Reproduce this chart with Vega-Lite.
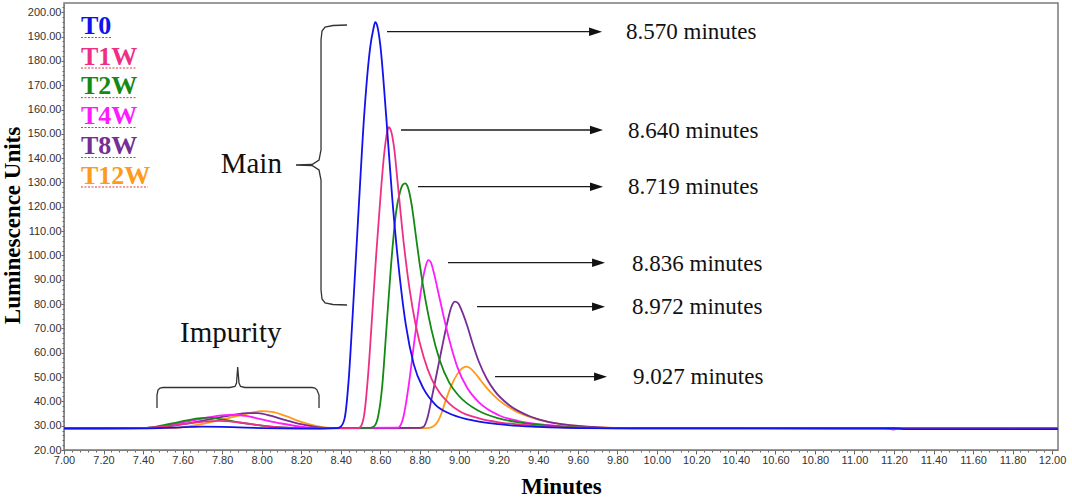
{
  "$schema": "https://vega.github.io/schema/vega-lite/v6.json",
  "width": 994,
  "height": 447,
  "autosize": {"type": "none"},
  "padding": {"left": 64, "top": 3, "right": 14, "bottom": 49},
  "background": "white",
  "config": {"view": {"stroke": "#7a7a7a", "strokeWidth": 1.5}},
  "datasets": {
    "curves": [
      {"s": "T12W", "t": 7, "v": 28.9}, {"s": "T12W", "t": 7.55, "v": 29.0}, {"s": "T12W", "t": 7.65, "v": 30.0}, {"s": "T12W", "t": 7.75, "v": 31.6}, {"s": "T12W", "t": 7.85, "v": 33.5}, {"s": "T12W", "t": 7.95, "v": 35.4}, {"s": "T12W", "t": 8.0, "v": 36.0}, {"s": "T12W", "t": 8.06, "v": 35.6}, {"s": "T12W", "t": 8.12, "v": 34.0}, {"s": "T12W", "t": 8.2, "v": 31.6}, {"s": "T12W", "t": 8.27, "v": 30.0}, {"s": "T12W", "t": 8.33, "v": 29.2}, {"s": "T12W", "t": 8.4, "v": 28.9}, {"s": "T12W", "t": 8.84, "v": 29.0}, {"s": "T12W", "t": 8.87, "v": 29.8}, {"s": "T12W", "t": 8.89, "v": 31.5}, {"s": "T12W", "t": 8.91, "v": 35}, {"s": "T12W", "t": 8.93, "v": 40}, {"s": "T12W", "t": 8.96, "v": 46.5}, {"s": "T12W", "t": 8.99, "v": 51.2}, {"s": "T12W", "t": 9.015, "v": 53.6}, {"s": "T12W", "t": 9.034, "v": 54.3}, {"s": "T12W", "t": 9.05, "v": 53.9}, {"s": "T12W", "t": 9.08, "v": 51.6}, {"s": "T12W", "t": 9.11, "v": 48.5}, {"s": "T12W", "t": 9.15, "v": 44.5}, {"s": "T12W", "t": 9.2, "v": 40.5}, {"s": "T12W", "t": 9.28, "v": 36.2}, {"s": "T12W", "t": 9.38, "v": 33}, {"s": "T12W", "t": 9.5, "v": 30.8}, {"s": "T12W", "t": 9.6, "v": 29.8}, {"s": "T12W", "t": 9.75, "v": 29.2}, {"s": "T12W", "t": 9.9, "v": 28.9}, {"s": "T12W", "t": 12.03, "v": 28.9},
      {"s": "T8W", "t": 7, "v": 28.9}, {"s": "T8W", "t": 7.45, "v": 29.0}, {"s": "T8W", "t": 7.55, "v": 30.0}, {"s": "T8W", "t": 7.65, "v": 31.3}, {"s": "T8W", "t": 7.75, "v": 32.8}, {"s": "T8W", "t": 7.85, "v": 34.3}, {"s": "T8W", "t": 7.93, "v": 35.2}, {"s": "T8W", "t": 7.98, "v": 35.2}, {"s": "T8W", "t": 8.05, "v": 34.0}, {"s": "T8W", "t": 8.12, "v": 32.3}, {"s": "T8W", "t": 8.2, "v": 30.6}, {"s": "T8W", "t": 8.28, "v": 29.4}, {"s": "T8W", "t": 8.35, "v": 29.0}, {"s": "T8W", "t": 8.8, "v": 29.1}, {"s": "T8W", "t": 8.82, "v": 29.6}, {"s": "T8W", "t": 8.84, "v": 33.5}, {"s": "T8W", "t": 8.86, "v": 41}, {"s": "T8W", "t": 8.88, "v": 49}, {"s": "T8W", "t": 8.91, "v": 61}, {"s": "T8W", "t": 8.94, "v": 72.5}, {"s": "T8W", "t": 8.96, "v": 78.8}, {"s": "T8W", "t": 8.978, "v": 81.0}, {"s": "T8W", "t": 8.995, "v": 80.3}, {"s": "T8W", "t": 9.01, "v": 77.8}, {"s": "T8W", "t": 9.04, "v": 71.2}, {"s": "T8W", "t": 9.07, "v": 63.2}, {"s": "T8W", "t": 9.1, "v": 56.2}, {"s": "T8W", "t": 9.14, "v": 49.2}, {"s": "T8W", "t": 9.18, "v": 44.2}, {"s": "T8W", "t": 9.25, "v": 38.6}, {"s": "T8W", "t": 9.35, "v": 34.1}, {"s": "T8W", "t": 9.45, "v": 31.6}, {"s": "T8W", "t": 9.55, "v": 30.3}, {"s": "T8W", "t": 9.65, "v": 29.6}, {"s": "T8W", "t": 9.8, "v": 29.1}, {"s": "T8W", "t": 12.03, "v": 28.9},
      {"s": "T4W", "t": 7, "v": 28.9}, {"s": "T4W", "t": 7.4, "v": 29.0}, {"s": "T4W", "t": 7.5, "v": 29.9}, {"s": "T4W", "t": 7.6, "v": 31.4}, {"s": "T4W", "t": 7.7, "v": 32.9}, {"s": "T4W", "t": 7.8, "v": 34.2}, {"s": "T4W", "t": 7.86, "v": 34.5}, {"s": "T4W", "t": 7.92, "v": 34.0}, {"s": "T4W", "t": 8.0, "v": 32.6}, {"s": "T4W", "t": 8.1, "v": 30.9}, {"s": "T4W", "t": 8.2, "v": 29.6}, {"s": "T4W", "t": 8.3, "v": 29.0}, {"s": "T4W", "t": 8.69, "v": 29.2}, {"s": "T4W", "t": 8.7, "v": 29.8}, {"s": "T4W", "t": 8.71, "v": 31.5}, {"s": "T4W", "t": 8.72, "v": 34.5}, {"s": "T4W", "t": 8.73, "v": 39}, {"s": "T4W", "t": 8.75, "v": 50}, {"s": "T4W", "t": 8.77, "v": 63}, {"s": "T4W", "t": 8.79, "v": 75.5}, {"s": "T4W", "t": 8.81, "v": 87.5}, {"s": "T4W", "t": 8.83, "v": 95.5}, {"s": "T4W", "t": 8.843, "v": 98.1}, {"s": "T4W", "t": 8.855, "v": 97.4}, {"s": "T4W", "t": 8.87, "v": 93.4}, {"s": "T4W", "t": 8.89, "v": 86.3}, {"s": "T4W", "t": 8.92, "v": 75.3}, {"s": "T4W", "t": 8.95, "v": 65.2}, {"s": "T4W", "t": 8.99, "v": 54.2}, {"s": "T4W", "t": 9.04, "v": 45.6}, {"s": "T4W", "t": 9.1, "v": 39.6}, {"s": "T4W", "t": 9.2, "v": 34.3}, {"s": "T4W", "t": 9.3, "v": 31.9}, {"s": "T4W", "t": 9.4, "v": 30.6}, {"s": "T4W", "t": 9.5, "v": 29.9}, {"s": "T4W", "t": 9.6, "v": 29.4}, {"s": "T4W", "t": 9.8, "v": 29.0}, {"s": "T4W", "t": 12.03, "v": 28.9},
      {"s": "T2W", "t": 7, "v": 28.9}, {"s": "T2W", "t": 7.4, "v": 29.0}, {"s": "T2W", "t": 7.48, "v": 29.8}, {"s": "T2W", "t": 7.58, "v": 31.5}, {"s": "T2W", "t": 7.68, "v": 33.0}, {"s": "T2W", "t": 7.73, "v": 33.3}, {"s": "T2W", "t": 7.8, "v": 32.6}, {"s": "T2W", "t": 7.9, "v": 31.2}, {"s": "T2W", "t": 8.0, "v": 30.0}, {"s": "T2W", "t": 8.1, "v": 29.3}, {"s": "T2W", "t": 8.2, "v": 29.0}, {"s": "T2W", "t": 8.55, "v": 29.1}, {"s": "T2W", "t": 8.57, "v": 29.8}, {"s": "T2W", "t": 8.59, "v": 34}, {"s": "T2W", "t": 8.61, "v": 46}, {"s": "T2W", "t": 8.63, "v": 68}, {"s": "T2W", "t": 8.655, "v": 96}, {"s": "T2W", "t": 8.68, "v": 117.5}, {"s": "T2W", "t": 8.7, "v": 126}, {"s": "T2W", "t": 8.715, "v": 129.1}, {"s": "T2W", "t": 8.726, "v": 129.6}, {"s": "T2W", "t": 8.74, "v": 128.1}, {"s": "T2W", "t": 8.76, "v": 120.5}, {"s": "T2W", "t": 8.78, "v": 108.5}, {"s": "T2W", "t": 8.8, "v": 96.4}, {"s": "T2W", "t": 8.83, "v": 81.3}, {"s": "T2W", "t": 8.86, "v": 69.3}, {"s": "T2W", "t": 8.9, "v": 57.2}, {"s": "T2W", "t": 8.95, "v": 47.6}, {"s": "T2W", "t": 9.0, "v": 42.1}, {"s": "T2W", "t": 9.1, "v": 36}, {"s": "T2W", "t": 9.2, "v": 33}, {"s": "T2W", "t": 9.3, "v": 31.4}, {"s": "T2W", "t": 9.4, "v": 30.4}, {"s": "T2W", "t": 9.5, "v": 29.7}, {"s": "T2W", "t": 9.6, "v": 29.3}, {"s": "T2W", "t": 9.8, "v": 29.0}, {"s": "T2W", "t": 12.03, "v": 28.9},
      {"s": "T1W", "t": 7, "v": 28.9}, {"s": "T1W", "t": 7.4, "v": 29.0}, {"s": "T1W", "t": 7.5, "v": 29.6}, {"s": "T1W", "t": 7.6, "v": 30.6}, {"s": "T1W", "t": 7.7, "v": 31.6}, {"s": "T1W", "t": 7.78, "v": 32.0}, {"s": "T1W", "t": 7.86, "v": 31.6}, {"s": "T1W", "t": 7.95, "v": 30.6}, {"s": "T1W", "t": 8.05, "v": 29.6}, {"s": "T1W", "t": 8.15, "v": 29.1}, {"s": "T1W", "t": 8.3, "v": 28.9}, {"s": "T1W", "t": 8.49, "v": 29.0}, {"s": "T1W", "t": 8.5, "v": 29.5}, {"s": "T1W", "t": 8.52, "v": 35}, {"s": "T1W", "t": 8.54, "v": 52}, {"s": "T1W", "t": 8.56, "v": 76}, {"s": "T1W", "t": 8.58, "v": 100.5}, {"s": "T1W", "t": 8.6, "v": 122.5}, {"s": "T1W", "t": 8.62, "v": 141.6}, {"s": "T1W", "t": 8.635, "v": 150.6}, {"s": "T1W", "t": 8.643, "v": 152.7}, {"s": "T1W", "t": 8.655, "v": 151.2}, {"s": "T1W", "t": 8.67, "v": 144.6}, {"s": "T1W", "t": 8.69, "v": 128.6}, {"s": "T1W", "t": 8.72, "v": 104.5}, {"s": "T1W", "t": 8.75, "v": 85.4}, {"s": "T1W", "t": 8.78, "v": 71.3}, {"s": "T1W", "t": 8.82, "v": 58.2}, {"s": "T1W", "t": 8.86, "v": 49.2}, {"s": "T1W", "t": 8.9, "v": 43.6}, {"s": "T1W", "t": 8.95, "v": 39.1}, {"s": "T1W", "t": 9.0, "v": 36}, {"s": "T1W", "t": 9.1, "v": 33}, {"s": "T1W", "t": 9.2, "v": 31.4}, {"s": "T1W", "t": 9.3, "v": 30.5}, {"s": "T1W", "t": 9.45, "v": 29.6}, {"s": "T1W", "t": 9.6, "v": 29.1}, {"s": "T1W", "t": 9.8, "v": 28.9}, {"s": "T1W", "t": 11.15, "v": 28.9}, {"s": "T1W", "t": 11.2, "v": 28.4}, {"s": "T1W", "t": 11.22, "v": 28.9}, {"s": "T1W", "t": 12.03, "v": 28.8},
      {"s": "T0", "t": 7, "v": 28.9}, {"s": "T0", "t": 7.4, "v": 28.9}, {"s": "T0", "t": 7.55, "v": 29.2}, {"s": "T0", "t": 7.7, "v": 29.6}, {"s": "T0", "t": 7.85, "v": 29.4}, {"s": "T0", "t": 8.0, "v": 29.0}, {"s": "T0", "t": 8.2, "v": 28.8}, {"s": "T0", "t": 8.3, "v": 28.8}, {"s": "T0", "t": 8.38, "v": 29.0}, {"s": "T0", "t": 8.4, "v": 29.6}, {"s": "T0", "t": 8.42, "v": 33}, {"s": "T0", "t": 8.44, "v": 48.2}, {"s": "T0", "t": 8.46, "v": 74.4}, {"s": "T0", "t": 8.49, "v": 117.6}, {"s": "T0", "t": 8.52, "v": 158.8}, {"s": "T0", "t": 8.55, "v": 185.9}, {"s": "T0", "t": 8.565, "v": 192.9}, {"s": "T0", "t": 8.575, "v": 195.9}, {"s": "T0", "t": 8.585, "v": 194.4}, {"s": "T0", "t": 8.6, "v": 186.9}, {"s": "T0", "t": 8.63, "v": 157.7}, {"s": "T0", "t": 8.66, "v": 124.6}, {"s": "T0", "t": 8.7, "v": 90.4}, {"s": "T0", "t": 8.73, "v": 71.3}, {"s": "T0", "t": 8.77, "v": 55.2}, {"s": "T0", "t": 8.82, "v": 45.1}, {"s": "T0", "t": 8.88, "v": 38.6}, {"s": "T0", "t": 8.95, "v": 35}, {"s": "T0", "t": 9.05, "v": 32.5}, {"s": "T0", "t": 9.2, "v": 30.6}, {"s": "T0", "t": 9.4, "v": 29.5}, {"s": "T0", "t": 9.6, "v": 29.0}, {"s": "T0", "t": 10, "v": 28.9}, {"s": "T0", "t": 11.2, "v": 28.9}, {"s": "T0", "t": 11.25, "v": 28.6}, {"s": "T0", "t": 12.03, "v": 28.6}
    ],
    "braces": [
      {"b": "main", "o": 0, "t": 8.4322, "v": 194.76}, {"b": "main", "o": 1, "t": 8.3613, "v": 194.55}, {"b": "main", "o": 2, "t": 8.3209, "v": 193.93}, {"b": "main", "o": 3, "t": 8.3057, "v": 192.29}, {"b": "main", "o": 4, "t": 8.3006, "v": 188.59}, {"b": "main", "o": 5, "t": 8.3006, "v": 143.36}, {"b": "main", "o": 6, "t": 8.2905, "v": 139.24}, {"b": "main", "o": 7, "t": 8.2551, "v": 137.39}, {"b": "main", "o": 8, "t": 8.1741, "v": 137.18}, {"b": "main", "o": 9, "t": 8.2551, "v": 136.98}, {"b": "main", "o": 10, "t": 8.2905, "v": 135.13}, {"b": "main", "o": 11, "t": 8.3006, "v": 131.02}, {"b": "main", "o": 12, "t": 8.3006, "v": 85.79}, {"b": "main", "o": 13, "t": 8.3057, "v": 82.09}, {"b": "main", "o": 14, "t": 8.3209, "v": 80.44}, {"b": "main", "o": 15, "t": 8.3613, "v": 79.83}, {"b": "main", "o": 16, "t": 8.4322, "v": 79.62},
      {"b": "imp", "o": 0, "t": 7.4706, "v": 37.27}, {"b": "imp", "o": 1, "t": 7.4706, "v": 42.61}, {"b": "imp", "o": 2, "t": 7.4757, "v": 44.67}, {"b": "imp", "o": 3, "t": 7.4858, "v": 45.5}, {"b": "imp", "o": 4, "t": 7.501, "v": 45.7}, {"b": "imp", "o": 5, "t": 7.8401, "v": 45.7}, {"b": "imp", "o": 6, "t": 7.8654, "v": 46.11}, {"b": "imp", "o": 7, "t": 7.873, "v": 47.55}, {"b": "imp", "o": 8, "t": 7.879, "v": 54.13}, {"b": "imp", "o": 9, "t": 7.8856, "v": 47.55}, {"b": "imp", "o": 10, "t": 7.8932, "v": 46.11}, {"b": "imp", "o": 11, "t": 7.916, "v": 45.7}, {"b": "imp", "o": 12, "t": 8.2551, "v": 45.7}, {"b": "imp", "o": 13, "t": 8.2702, "v": 45.5}, {"b": "imp", "o": 14, "t": 8.2804, "v": 44.67}, {"b": "imp", "o": 15, "t": 8.2905, "v": 42.61}, {"b": "imp", "o": 16, "t": 8.2905, "v": 37.27}
    ],
    "arrows": [
      {"t": 9.6898, "t0": 8.6346, "v": 192.0},
      {"t": 9.6948, "t0": 8.7055, "v": 151.58},
      {"t": 9.6948, "t0": 8.7915, "v": 128.27},
      {"t": 9.705, "t0": 8.9433, "v": 97.01},
      {"t": 9.705, "t0": 9.0901, "v": 78.92},
      {"t": 9.7151, "t0": 9.1812, "v": 50.14}
    ],
    "times": [
      {"label": "8.570 minutes", "t": 9.8441, "v": 188.87},
      {"label": "8.640 minutes", "t": 9.8543, "v": 148.41},
      {"label": "8.719 minutes", "t": 9.8543, "v": 125.26},
      {"label": "8.836 minutes", "t": 9.8745, "v": 93.73},
      {"label": "8.972 minutes", "t": 9.8745, "v": 75.92},
      {"label": "9.027 minutes", "t": 9.8796, "v": 47.14}
    ],
    "notes": [
      {"label": "Main", "t": 7.793, "v": 134.02},
      {"label": "Impurity", "t": 7.587, "v": 64.53}
    ],
    "legend": [
      {"s": "T0", "t": 7.086, "v": 190.93},
      {"s": "T1W", "t": 7.086, "v": 178.31},
      {"s": "T2W", "t": 7.086, "v": 166.26},
      {"s": "T4W", "t": 7.086, "v": 154.05},
      {"s": "T8W", "t": 7.086, "v": 141.71},
      {"s": "T12W", "t": 7.086, "v": 129.38}
    ],
    "underlines": [
      {"t": 7.086, "t0": 7.2429, "v": 189.61},
      {"t": 7.086, "t0": 7.3694, "v": 177.07},
      {"t": 7.086, "t0": 7.3694, "v": 164.88},
      {"t": 7.086, "t0": 7.3694, "v": 152.61},
      {"t": 7.086, "t0": 7.3694, "v": 140.27},
      {"t": 7.086, "t0": 7.4251, "v": 128.14}
    ]
  },
  "encoding": {
    "x": {
      "field": "t",
      "type": "quantitative",
      "scale": {"domain": [7, 12.03], "nice": false, "zero": false},
      "axis": {
        "title": "Minutes",
        "titleFont": "Liberation Serif",
        "titleFontSize": 23,
        "titleFontWeight": "bold",
        "titleColor": "#000",
        "titleY": 43,
        "titleBaseline": "alphabetic",
        "values": [7,7.04,7.08,7.12,7.16,7.2,7.24,7.28,7.32,7.36,7.4,7.44,7.48,7.52,7.56,7.6,7.64,7.68,7.72,7.76,7.8,7.84,7.88,7.92,7.96,
                   8,8.04,8.08,8.12,8.16,8.2,8.24,8.28,8.32,8.36,8.4,8.44,8.48,8.52,8.56,8.6,8.64,8.68,8.72,8.76,8.8,8.84,8.88,8.92,8.96,
                   9,9.04,9.08,9.12,9.16,9.2,9.24,9.28,9.32,9.36,9.4,9.44,9.48,9.52,9.56,9.6,9.64,9.68,9.72,9.76,9.8,9.84,9.88,9.92,9.96,
                   10,10.04,10.08,10.12,10.16,10.2,10.24,10.28,10.32,10.36,10.4,10.44,10.48,10.52,10.56,10.6,10.64,10.68,10.72,10.76,10.8,10.84,10.88,10.92,10.96,
                   11,11.04,11.08,11.12,11.16,11.2,11.24,11.28,11.32,11.36,11.4,11.44,11.48,11.52,11.56,11.6,11.64,11.68,11.72,11.76,11.8,11.84,11.88,11.92,11.96,12],
        "labelExpr": "abs(datum.value * 5 - round(datum.value * 5)) < 0.01 ? format(datum.value, '.2f') : ''",
        "labelOverlap": false,
        "labelFlush": false,
        "labelBound": false,
        "labelFont": "Liberation Sans",
        "labelFontSize": 11,
        "labelColor": "#333",
        "labelPadding": 0,
        "tickSize": {"condition": {"test": "abs(datum.value * 5 - round(datum.value * 5)) < 0.01", "value": 4}, "value": 2},
        "tickColor": "#666",
        "domainColor": "#7a7a7a",
        "grid": false
      }
    },
    "y": {
      "field": "v",
      "type": "quantitative",
      "scale": {"domain": [20, 203.8], "nice": false, "zero": false},
      "axis": {
        "title": "Luminescence Units",
        "titleFont": "Liberation Serif",
        "titleFontSize": 23,
        "titleFontWeight": "bold",
        "titleColor": "#000",
        "titleX": -45,
        "titleY": 222,
        "titleAngle": -90,
        "titleAlign": "center",
        "titleBaseline": "alphabetic",
        "values": [20,22,24,26,28,30,32,34,36,38,40,42,44,46,48,50,52,54,56,58,60,62,64,66,68,70,72,74,76,78,80,82,84,86,88,90,92,94,96,98,
                   100,102,104,106,108,110,112,114,116,118,120,122,124,126,128,130,132,134,136,138,140,142,144,146,148,150,152,154,156,158,
                   160,162,164,166,168,170,172,174,176,178,180,182,184,186,188,190,192,194,196,198,200,202],
        "labelExpr": "datum.value % 10 === 0 ? format(datum.value, '.2f') : ''",
        "labelOverlap": false,
        "labelFlush": false,
        "labelBound": false,
        "labelFont": "Liberation Sans",
        "labelFontSize": 11,
        "labelColor": "#333",
        "labelPadding": 0,
        "tickSize": {"condition": {"test": "datum.value % 10 === 0", "value": 3}, "value": 2},
        "tickColor": "#666",
        "domainColor": "#7a7a7a",
        "domainDash": [2, 1],
        "grid": false
      }
    }
  },
  "layer": [
    {
      "data": {"name": "curves"},
      "mark": {"type": "line", "interpolate": "monotone", "strokeWidth": 1.8, "clip": true},
      "encoding": {
        "color": {
          "field": "s",
          "type": "nominal",
          "scale": {"domain": ["T0", "T1W", "T2W", "T4W", "T8W", "T12W"], "range": ["#1212EE", "#EE2F86", "#138A13", "#FF1BFF", "#762D96", "#FF9A1A"]},
          "legend": null
        }
      }
    },
    {
      "data": {"name": "braces"},
      "mark": {"type": "line", "interpolate": "linear", "color": "#333", "strokeWidth": 1.3},
      "encoding": {
        "detail": {"field": "b"},
        "order": {"field": "o", "type": "quantitative"}
      }
    },
    {
      "data": {"name": "arrows"},
      "mark": {"type": "rule", "color": "#1a1a1a", "strokeWidth": 1.3},
      "encoding": {"x2": {"field": "t0"}}
    },
    {
      "data": {"name": "arrows"},
      "mark": {"type": "point", "shape": "M-1,-0.65L1,0L-1,0.65Z", "filled": true, "size": 169, "color": "#111", "opacity": 1},
      "encoding": {}
    },
    {
      "data": {"name": "times"},
      "mark": {"type": "text", "font": "Liberation Serif", "fontSize": 23, "align": "left", "baseline": "alphabetic", "color": "#111"},
      "encoding": {"text": {"field": "label"}}
    },
    {
      "data": {"name": "notes"},
      "mark": {"type": "text", "font": "Liberation Serif", "fontSize": 29, "align": "left", "baseline": "alphabetic", "color": "#111"},
      "encoding": {"text": {"field": "label"}}
    },
    {
      "data": {"name": "underlines"},
      "mark": {"type": "rule", "color": "#E03A3A", "strokeWidth": 1, "strokeDash": [2, 1.5]},
      "encoding": {"x2": {"field": "t0"}}
    },
    {
      "data": {"name": "legend"},
      "mark": {"type": "text", "font": "Liberation Serif", "fontSize": 26, "fontWeight": "bold", "align": "left", "baseline": "alphabetic"},
      "encoding": {
        "text": {"field": "s"},
        "color": {"field": "s", "type": "nominal", "legend": null}
      }
    }
  ]
}
